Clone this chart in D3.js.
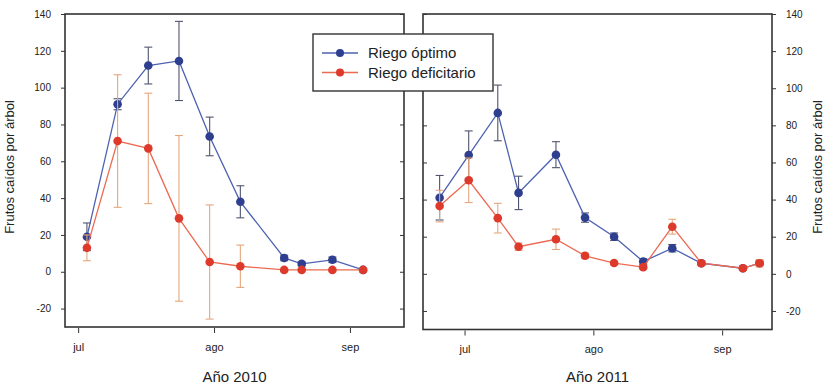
<!DOCTYPE html>
<html>
<head>
<meta charset="utf-8">
<script src="https://cdn.jsdelivr.net/npm/d3@7"></script>
<style>
  body { margin: 0; background: #fff; }
  svg { display: block; font-family: "Liberation Sans", Arial, sans-serif; }
</style>
</head>
<body>
<script>
// Frutos caidos por arbol, 2010 y 2011
// Valores

var fechas2010 = ["2010-07-03", "2010-07-10", "2010-07-17", "2010-07-24", "2010-07-31",
                  "2010-08-07", "2010-08-17", "2010-08-21", "2010-08-28", "2010-09-04"];
var optimo2010 = [19, 91, 112, 114.5, 73.5, 38, 7.5, 4.3, 6.5, 1];
var optimoErr2010 = [7.5, 3, 10, 21.5, 10.5, 8.7, 1.5, 1, 1.5, 1];
var deficit2010 = [13, 71, 67, 29, 5.3, 3, 1, 1, 1, 1];
var deficitErr2010 = [7, 36, 30, 45, 31, 11.5, 1, 1, 1, 1];

var fechas2011 = ["2011-06-25", "2011-07-02", "2011-07-09", "2011-07-14", "2011-07-23", "2011-07-30",
                  "2011-08-06", "2011-08-13", "2011-08-20", "2011-08-27", "2011-09-06", "2011-09-10"];
var optimo2011 = [41, 64, 86.7, 43.6, 64.2, 30.3, 20, 6.6, 13.8, 5.7, 3, 5.7];
var optimoErr2011 = [12, 13, 15, 9, 7, 2.5, 2, 1.5, 2, 1, 1, 1];
var deficit2011 = [36.5, 50.4, 30, 14.6, 18.6, 9.7, 5.8, 3.6, 25.4, 5.7, 3, 5.7];
var deficitErr2011 = [8.5, 12, 8, 2, 5.5, 1.5, 1, 1, 4, 1, 1, 2];

var yTicks = [-20, 0, 20, 40, 60, 80, 100, 120, 140];
var mesTicks = ["jul", "ago", "sep"];
var series = ["Riego óptimo", "Riego deficitario"];
var ejeY = "Frutos caídos por árbol";

var azul = "#2f3f8f", azulLinea = "#4d62b0", azulErr = "#50546e";
var rojo = "#dd3a2c", rojoLinea = "#ec6a52", rojoErr = "#e6a67e";

var parse = d3.timeParse("%Y-%m-%d");
var W = 833, H = 388;

var svg = d3.select("body").append("svg").attr("width", W).attr("height", H);

// Draw one panel (one year)
function drawPanel(p) {
  var x = d3.scaleTime().domain(p.xDomain).range([p.x0, p.x1]);
  var y = d3.scaleLinear().domain([-30, 140]).range([p.y1, p.y0]);
  var g = svg.append("g");

  // x axis, ticks at the first of each month
  var meses = mesTicks.map(function(m, i) { return new Date(p.year, 6 + i, 1); });
  var xAxis = d3.axisBottom(x).tickValues(meses)
    .tickFormat(function(d, i) { return mesTicks[i]; })
    .tickSize(5).tickPadding(10);
  g.append("g").attr("transform", "translate(0," + (p.y1 + 1) + ")").call(xAxis)
    .call(function(a) { a.select(".domain").remove(); })
    .selectAll("text").attr("font-size", 11).attr("fill", "#222");

  // y axes: labelled on the outer side, plain inner ticks on the other
  var outer = p.side == "left" ? d3.axisLeft(y) : d3.axisRight(y);
  outer.tickValues(yTicks).tickSize(4).tickPadding(10)
    .tickFormat(function(d) { return String(d); });
  g.append("g").attr("transform", "translate(" + (p.side == "left" ? p.x0 : p.x1) + ",0)").call(outer)
    .call(function(a) { a.select(".domain").remove(); })
    .selectAll("text").attr("font-size", 10).attr("fill", "#222");

  var inner = p.side == "left" ? d3.axisLeft(y) : d3.axisRight(y);
  inner.tickValues(yTicks).tickSize(4).tickFormat("");
  g.append("g").attr("transform", "translate(" + (p.side == "left" ? p.x1 : p.x0) + ",0)").call(inner)
    .call(function(a) { a.select(".domain").remove(); });

  g.selectAll(".tick line").attr("stroke", "#333");

  // frame
  g.append("rect").attr("x", p.x0).attr("y", p.y0)
    .attr("width", p.x1 - p.x0).attr("height", p.y1 - p.y0)
    .attr("fill", "none").attr("stroke", "#333").attr("stroke-width", 1.6);

  // series: blue first, red on top
  var sets = [
    { vals: p.optimo, err: p.optimoErr, punto: azul, linea: azulLinea, barra: azulErr },
    { vals: p.deficit, err: p.deficitErr, punto: rojo, linea: rojoLinea, barra: rojoErr }
  ];
  sets.forEach(function(s) {
    var datos = p.fechas.map(function(f, i) { return { d: parse(f), v: s.vals[i], e: s.err[i] }; });
    var eb = g.append("g").attr("stroke", s.barra).attr("stroke-width", 1.1);
    datos.forEach(function(d) {
      var cx = x(d.d);
      eb.append("line").attr("x1", cx).attr("x2", cx).attr("y1", y(d.v + d.e)).attr("y2", y(d.v - d.e));
      eb.append("line").attr("x1", cx - 4).attr("x2", cx + 4).attr("y1", y(d.v + d.e)).attr("y2", y(d.v + d.e));
      eb.append("line").attr("x1", cx - 4).attr("x2", cx + 4).attr("y1", y(d.v - d.e)).attr("y2", y(d.v - d.e));
    });
    g.append("path").datum(datos)
      .attr("d", d3.line().x(function(d) { return x(d.d); }).y(function(d) { return y(d.v); }))
      .attr("fill", "none").attr("stroke", s.linea).attr("stroke-width", 1.3);
    g.selectAll(null).data(datos).enter().append("circle")
      .attr("cx", function(d) { return x(d.d); })
      .attr("cy", function(d) { return y(d.v); })
      .attr("r", 4.3).attr("fill", s.punto);
  });

  // year title
  g.append("text").attr("x", (p.x0 + p.x1) / 2).attr("y", 382)
    .attr("text-anchor", "middle").attr("font-size", 15).attr("fill", "#222")
    .text("Año " + p.year);

  // y label
  var lx = p.side == "left" ? 14 : 822;
  g.append("text").attr("transform", "translate(" + lx + ",167) rotate(-90)")
    .attr("text-anchor", "middle").attr("font-size", 13).attr("fill", "#222")
    .text(ejeY);
}

drawPanel({
  year: 2010, side: "left", x0: 65, x1: 404, y0: 14, y1: 327,
  xDomain: [new Date(2010, 5, 28), new Date(2010, 8, 13, 8)],
  fechas: fechas2010, optimo: optimo2010, optimoErr: optimoErr2010,
  deficit: deficit2010, deficitErr: deficitErr2010
});

drawPanel({
  year: 2011, side: "right", x0: 423, x1: 772, y0: 14, y1: 329.5,
  xDomain: [new Date(2011, 5, 21), new Date(2011, 8, 13)],
  fechas: fechas2011, optimo: optimo2011, optimoErr: optimoErr2011,
  deficit: deficit2011, deficitErr: deficitErr2011
});

// legend
var leg = svg.append("g").attr("transform", "translate(313,34)");
leg.append("rect").attr("width", 180).attr("height", 57)
  .attr("fill", "#fff").attr("stroke", "#333").attr("stroke-width", 1.4);
var legColors = [[azul, azulLinea], [rojo, rojoLinea]];
series.forEach(function(s, i) {
  var yy = 19 + i * 19.5;
  leg.append("line").attr("x1", 9).attr("x2", 45).attr("y1", yy).attr("y2", yy)
    .attr("stroke", legColors[i][1]).attr("stroke-width", 1.3);
  leg.append("circle").attr("cx", 27).attr("cy", yy).attr("r", 4).attr("fill", legColors[i][0]);
  leg.append("text").attr("x", 55).attr("y", yy + 5).attr("font-size", 15).attr("fill", "#222").text(s);
});
</script>
</body>
</html>
